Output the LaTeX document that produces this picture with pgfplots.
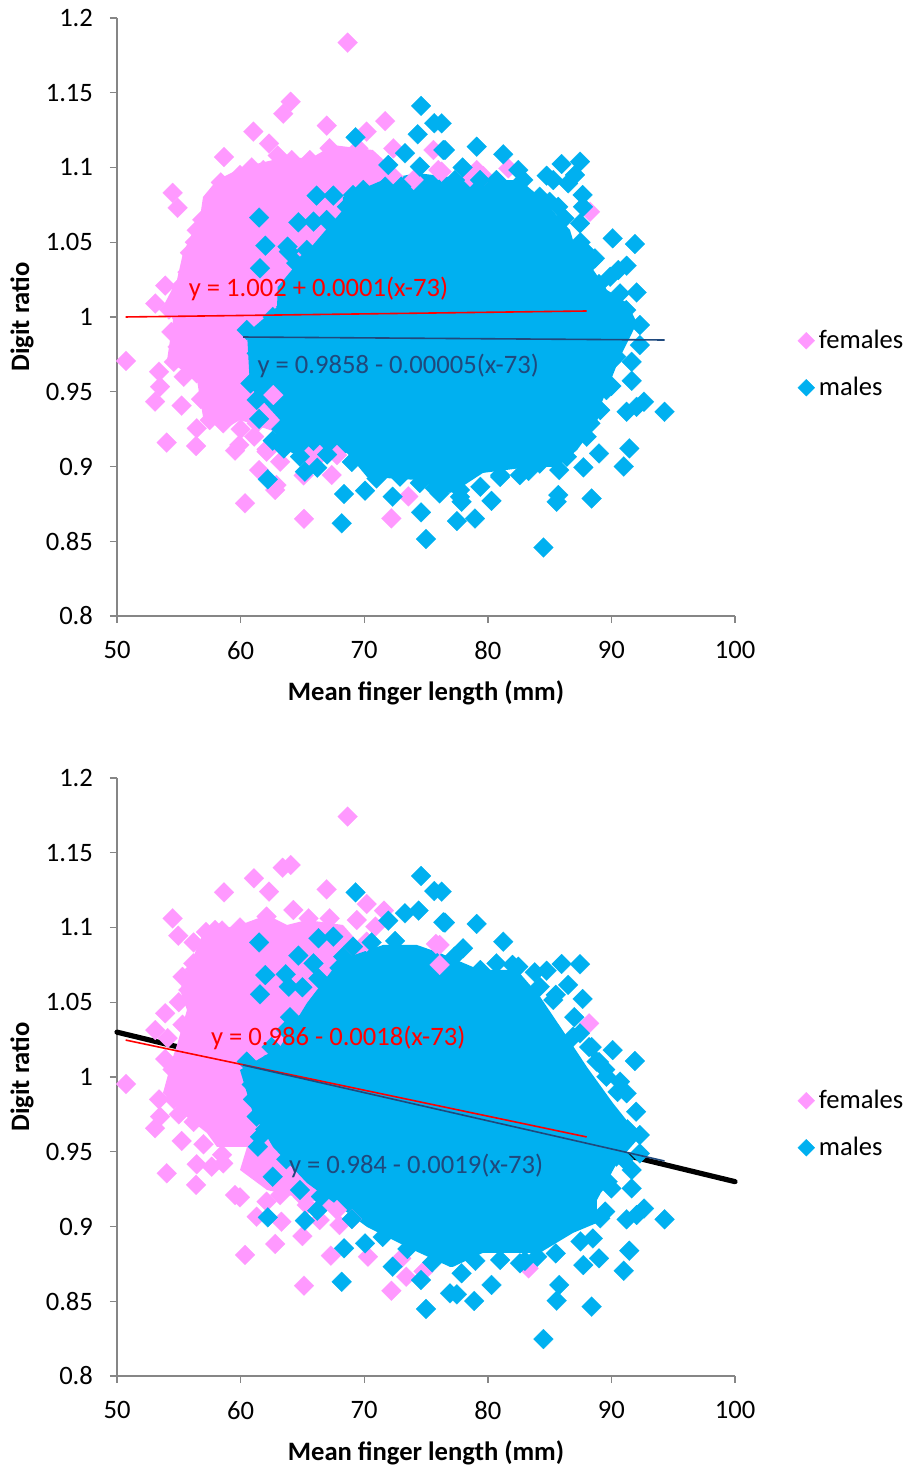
\documentclass[border=0pt]{standalone}
\usepackage{pgfplots}
\pgfplotsset{compat=1.18}
\usepackage{fontspec}
\setmainfont{Carlito}
\definecolor{pinkC}{HTML}{FF99FF}
\definecolor{blueC}{HTML}{00B0F0}
\definecolor{axisC}{HTML}{868686}
\definecolor{navyC}{HTML}{1F497D}
\newcommand{\tfont}{\fontsize{13.3}{15}\selectfont}
\pgfplotsset{
  frame/.style={
    scale only axis, width=309pt, height=299pt, anchor=south west,
    xmin=50, xmax=100, ymin=0.8, ymax=1.2, clip=false,
  },
  dr/.style={
    frame,
    axis lines*=left, axis line style={axisC, line width=0.8pt, -},
    tick style={axisC, line width=0.7pt}, tick align=outside, major tick length=3.5pt,
    xtick={50,60,70,80,90,100}, xticklabels={50,60,70,80,90,100},
    ytick={0.8,0.85,0.9,0.95,1,1.05,1.1,1.15,1.2},
    yticklabels={0.8,0.85,0.9,0.95,1,1.05,1.1,1.15,1.2},
    tick label style={font=\tfont},
    xticklabel style={yshift=-5.5pt}, yticklabel style={xshift=-5pt},
    xlabel={Mean finger length (mm)}, ylabel={Digit ratio},
    every axis x label/.style={at={(axis description cs:0.5,-0.1285)},anchor=center,font=\tfont\bfseries},
    every axis y label/.style={at={(axis description cs:-0.1537,0.5)},anchor=center,rotate=90,font=\tfont\bfseries},
    legend style={at={(1.101,0.421)},anchor=west,draw=none,fill=none,
      font=\tfont,row sep=8.8pt,inner sep=0pt},
    legend cell align=left,
    legend image post style={mark size=3pt},
  },
  pinkmarks/.style={only marks, mark=square*, mark size=3.5pt, mark options={rotate=45, fill=pinkC, draw=pinkC, line width=0.1pt}},
  bluemarks/.style={only marks, mark=square*, mark size=3.5pt, mark options={rotate=45, fill=blueC, draw=blueC, line width=0.1pt}},
  core/.style={draw=none, fill=#1, forget plot, mark=none},
}
\begin{document}
\begin{tikzpicture}
\path[use as bounding box] (0,0) rectangle (452.5pt,733pt);
% ---- upper chart ----
\begin{axis}[dr, at={(58.5pt,425pt)}]
% solid overplotted core of the females
\addplot[core=pinkC] coordinates {(53.88,1.0094)(54.85,1.0247)(55.34,1.0428)(56.72,1.0669)(56.96,1.0803)(58.09,1.0916)(60.19,1.1003)(62.62,1.105)(65.86,1.107)(67.48,1.115)(70.7,1.1117)(72.9,1.095)(72.9,1.0114)(64.81,.9177)(59.95,.9311)(58.58,.9244)(56.96,.9331)(56.47,.9579)(54.05,.9712)(54.53,.998)};
\addplot[pinkmarks] coordinates {
(68.66,1.1835)(64.05,1.144)(63.45,1.136)(61.03,1.124)(62.3,1.116)(66.97,1.128)(71.7,1.131)(58.66,1.107)(54.5,1.083)(54.9,1.073)(56.45,1.058)(55.9,1.043)(53.9,1.021)(53.1,1.009)
(50.73,.9706)(53.4,.9634)(53.48,.9534)(53.08,.9434)(55.23,.9407)(56.45,.9255)(54.02,.916)(56.4,.9137)(59.9,.9144)(59.55,.9106)(62.1,.9115)(63.2,.9032)(61.5,.8976)(62.8,.8843)(62.9,.8876)(60.36,.8754)(65.13,.865)(67.37,.8943)(72.2,.8653)(73.57,.88)(65.5,.9066)(66.4,.9077)(67.8,.9077)(65.1,.894)
(59.95,1.095)(58.9,1.085)(58.06,1.0805)(57.66,1.0716)(61.84,1.0983)(64.13,1.105)(65.6,1.105)(67.2,1.1129)(68.04,1.1073)(70.2,1.124)(69.53,1.1128)(72.36,1.1128)(75.6,1.1117)(76,1.0983)(72.36,1.0939)(74,1.0917)
(79.1,1.0983)(78.56,1.0938)(79.64,1.0943)(81.66,1.0994)(76.26,1.0972)(88.27,1.0704)
(55.37,.9724)(54.6,.970)(56.45,.9623)(57.5,.931)(58.6,.9289)(62.65,.9478)(61.3,.9289)(62.1,.9099)(54.2,1.005)(55.2,1.012)(56.3,1.05)(55.7,1.03)(57.0,1.06)
(63.0,1.108)(60.9,1.100)(58.4,1.09)(56.9,1.065)(55.1,1.02)(54.4,.99)(54.9,.98)(55.4,.96)(56.8,.945)(58,.935)(60,.925)(61.1,.92)
};
\addlegendentry{females}
% solid overplotted core of the males
\addplot[core=blueC] coordinates {(60.52,.9893)(62.95,1.0067)(63.0,1.02)(64.81,1.0381)(68.28,1.0716)(68.28,1.0803)(71.52,1.0916)(74.27,1.0963)(76.94,1.0936)(79.37,1.0916)(82.6,1.0916)(84.22,1.0803)(86.65,1.0582)(86.89,1.0515)(89.64,1.0181)(91.26,1.0094)(92.07,.996)(90.7,.9732)(89.08,.9398)(88.83,.9291)(87.22,.911)(85.6,.8997)(83.41,.8997)(79.61,.8957)(77.5,.8843)(76.94,.8823)(74.27,.891)(70.23,.893)(68.61,.909)(64.81,.9064)(62.62,.9157)(63.19,.9311)(60.76,.9532)};
\addplot[bluemarks] coordinates {
(76.27,1.1295)(76.53,1.1117)(79.1,1.1139)(81.25,1.1088)(77.96,1.1)(82.47,1.0983)(84.76,1.0945)(85.97,1.1023)(87.46,1.1039)(86.5,1.0894)(87.67,1.0816)(87.46,1.0626)(90.1,1.0526)(91.9,1.0488)(88.67,1.0392)(91.23,1.0343)(90.56,1.0314)(92.04,1.0164)(92.31,.9946)(92.3,.9812)(91.64,.97)(91.64,.9573)(90,.9538)(89.1,.9377)(92.64,.9433)(92.04,.9399)(91.23,.9366)(94.3,.9366)(91.45,.9121)(91,.9)(89,.9087)(87.73,.8994)(85.78,.8976)(85.7,.8809)(85.57,.8764)(88.4,.8786)(84.5,.8458)(80.3,.877)(78.96,.8652)(77.5,.8635)(77.88,.8764)(82.6,.8942)(81,.8942)
(75,.8515)(74.6,.8693)(68.18,.862)(68.37,.8816)(70.07,.8838)(72.3,.8798)(62.2,.8914)(65.2,.8965)(66.2,.8992)(61.5,.9318)(62.6,.9173)(75.7,.8856)(77.75,.8843)
(69.3,1.1202)(74.6,1.1412)(75.67,1.1296)(74.33,1.1222)(76.4,1.1117)(73.3,1.1095)(71.95,1.1017)(74.5,1.1006)(71.7,1.0872)(73,1.0872)(66.15,1.0812)(67.5,1.0812)(69.1,1.0816)(61.5,1.0665)(64.67,1.0633)(65.9,1.0638)(62,1.0477)(63.8,1.047)(63.9,1.0437)(61.57,1.0326)(65.35,1.0381)(63.7,1.007)(64.5,1.02)
(87.05,1.095)(85.3,1.0916)(84.2,1.0804)(82.87,1.0916)(80.7,1.0916)(79.37,1.0916)(77.34,1.0916)(85.7,1.0737)(87.7,1.0737)(88.5,1.038)(89.9,1.0269)(90.7,1.0158)(91.2,1.0046)(90.4,.9734)(89.6,.9511)(88.3,.9288)(88,.9199)(86.4,.9065)(84.2,.902)(81,.893)(79.4,.8864)(77.75,.8797)
(76.1,.882)(72.9,.8932)(64.8,.9066)(61.3,.9445)(60.8,.9556)(61.3,.9757)(60.5,.9913)(64.5,1.036)(65.35,1.0448)(66.96,1.0649)(68.6,1.0738)(69.93,1.085)(61.6,.985)(62.6,1.0)(63.3,.925)
(83.3,.897)(74.5,.889)(71,.892)(69,.903)(67,.908)(63.5,.912)(86.2,1.066)(85,1.077)(89,1.022)(88,1.043)(87.5,1.05)
};
\addlegendentry{males}
\end{axis}
\begin{axis}[frame, at={(58.5pt,425pt)}, hide axis]
\addplot[red, line width=0.8pt] coordinates {(50.7,1.0000)(88,1.0040)};
\addplot[navyC, line width=0.8pt] coordinates {(60.2,.9866)(94.3,.9846)};
\node[red, font=\tfont] at (axis cs:66.3,1.0190) {y = 1.002 + 0.0001(x-73)};
\node[navyC, font=\tfont] at (axis cs:72.75,.9670) {y = 0.9858 - 0.00005(x-73)};
\end{axis}
% ---- lower chart ----
\begin{axis}[dr, at={(58.5pt,45pt)}]
\addplot[black, line width=2.6pt, line cap=round, forget plot] coordinates {(50,1.03)(100,.93)};
% solid overplotted core of the females
\addplot[core=pinkC] coordinates {(54.85,1.0214)(55.66,1.0448)(55.1,1.0582)(55.9,1.0749)(56.96,1.0963)(59.95,1.1017)(62.14,1.1084)(63.75,1.1017)(65.37,1.105)(68.28,1.1017)(70.06,1.085)(70.06,.9846)(68.04,.913)(62.14,.9244)(59.95,.9378)(60.52,.9532)(58.09,.9532)(57.28,.9625)(55.66,.9732)(53.72,.9893)(54.45,1.0114)};
\addplot[pinkmarks] coordinates {
(68.66,1.1742)(64.05,1.1418)(63.4,1.14)(61.08,1.1329)(62.3,1.124)(66.96,1.1255)(58.66,1.1235)(54.5,1.1061)(54.96,1.0945)(70.2,1.1157)(71.6,1.1113)(69.4,1.105)(70.9,1.1006)(70.2,1.0905)(75.8,1.089)(76.1,1.075)(64.27,1.1117)(62.1,1.1073)(65.5,1.1061)(67.2,1.1061)(59.95,1.1)(57.93,1.0983)(56.58,1.077)(55.77,1.0582)(53.9,1.0426)(53.1,1.0314)(56.18,1.076)(57,1.065)(68.04,1.0805)(66.96,1.076)
(50.73,.9953)(53.4,.985)(53.48,.9735)(53.08,.9657)(55.23,.9572)(56.45,.9416)(54.02,.9356)(56.4,.9278)(57.66,.94)(58.6,.9422)(59.55,.921)(59.95,.9195)(63.3,.9032)(61.3,.9066)(65,.8936)(62.8,.8883)(60.36,.881)(65.13,.8604)(67.3,.8805)(70.3,.8798)(72.2,.857)(73.4,.8664)(73,.8787)(74.8,.87)(67.8,.911)(68,.901)(65.35,.9144)(63.2,.921)(62.1,.9166)(66.4,.9043)
(88.2,1.0359)(83.3,.872)(76.1,1.0883)(54.1,1.026)(55.3,1.035)(54.6,.985)(56.2,.97)
(56.2,1.09)(57.2,1.097)(58.5,1.098)(55.3,1.067)(56.3,1.072)(55,1.05)(54.5,1.005)(53.9,1.012)(55,.975)(57,.955)(58.5,.948)(63.8,.93)(62.4,.935)(65,.92)(66.7,.915)(69,.905)
};
\addlegendentry{females}
% solid overplotted core of the males
\addplot[core=blueC] coordinates {(59.95,1.0047)(63.19,1.0201)(65.37,1.0495)(68.04,1.0783)(71.52,1.0883)(74.27,1.0883)(76.13,1.0829)(79.37,1.0716)(82.36,1.0716)(84.22,1.0538)(86.4,1.027)(88.02,1.0067)(90.12,.9826)(92.3,.96)(90.45,.9425)(88.83,.9177)(88.83,.9024)(86.89,.8957)(84.22,.8824)(79.61,.8824)(77.18,.873)(76.94,.873)(73.94,.8844)(70.23,.8997)(68.04,.913)(65.37,.9291)(62.62,.9532)(61,.9759)};
\addplot[bluemarks] coordinates {
(69.3,1.1235)(74.6,1.1345)(75.67,1.1244)(74.4,1.1113)(73.3,1.1095)(71.95,1.1046)(76.4,1.1035)(61.5,1.09)(66.3,1.0928)(67.5,1.0939)(64.67,1.0812)(65.9,1.076)(62,1.0682)(63.65,1.0687)(63.9,1.0604)(61.57,1.0553)(69.1,1.0872)(68.3,1.0805)(60.5,1.0103)(62,1.008)(63.7,1.0314)(64.8,1.0348)
(75,.8448)(74.6,.8642)(68.18,.863)(68.37,.8854)(70.07,.8887)(72.3,.8731)(62.2,.9061)(65.2,.9039)(66.2,.9106)(61.4,.9534)(61.3,.9735)(61.57,.96)(62.6,.9333)(64.8,.9244)(76.94,.8553)
(76.27,1.124)(76.53,1.1033)(79.1,1.1024)(81.25,1.0905)(78,1.0861)(80.7,1.076)(82.47,1.0738)(84.76,1.0711)(85.97,1.0756)(87.46,1.0754)(86.5,1.0616)(87.67,1.0522)(87.46,1.0292)(90.1,1.018)(91.9,1.0107)(88.8,1.0103)(90.7,.9969)(91.23,.9891)(92,.9768)(92.3,.9612)(92.3,.9489)(91.64,.9378)(91.64,.9255)(90,.9255)(89.1,.9055)(92.64,.912)(92.04,.9077)(91.23,.9048)(94.3,.9048)(91.45,.8838)(91,.8704)(89,.8787)(87.73,.8742)(85.78,.8609)(85.57,.8504)(88.4,.8464)(84.5,.8247)(80.3,.8609)(78.9,.8502)(77.5,.8546)(77.88,.8687)(82.6,.8754)(81,.8776)(84,.8798)(88.5,.892)(87.7,.9177)(88.8,.9266)(90.4,.9467)(89.6,1.0002)(86.9,1.027)(85.3,1.0515)(84.2,1.0604)(79.4,1.0716)(77.3,1.0805)
(72.5,1.091)(70.6,1.09)(65,1.06)(66.3,1.066)(68,1.073)(64,1.04)(62.5,1.02)(60.9,.995)(61,.985)(62,.965)(63.7,.945)(66.5,.92)(69,.905)(71.5,.893)(73.5,.885)(75.5,.876)(79,.877)(83,.877)(85.5,.882)(87.5,.89)(89.5,.91)(89.7,.93)(91,.945)(91.3,.965)(90.5,.99)(89,1.01)(88.2,1.02)
(89.5,1.005)(88.4,1.02)(87,1.04)(85.5,1.055)(83.8,1.07)(82,1.075)
};
\addlegendentry{males}
\end{axis}
\begin{axis}[frame, at={(58.5pt,45pt)}, hide axis]
\addplot[red, line width=0.8pt] coordinates {(50.7,1.0247)(88,.9599)};
\addplot[navyC, line width=0.8pt] coordinates {(60.2,1.008)(94.3,.9438)};
\node[red, font=\tfont] at (axis cs:67.9,1.026) {y = 0.986 - 0.0018(x-73)};
\node[navyC, font=\tfont] at (axis cs:74.2,.9405) {y = 0.984 - 0.0019(x-73)};
\end{axis}
\end{tikzpicture}
\end{document}
